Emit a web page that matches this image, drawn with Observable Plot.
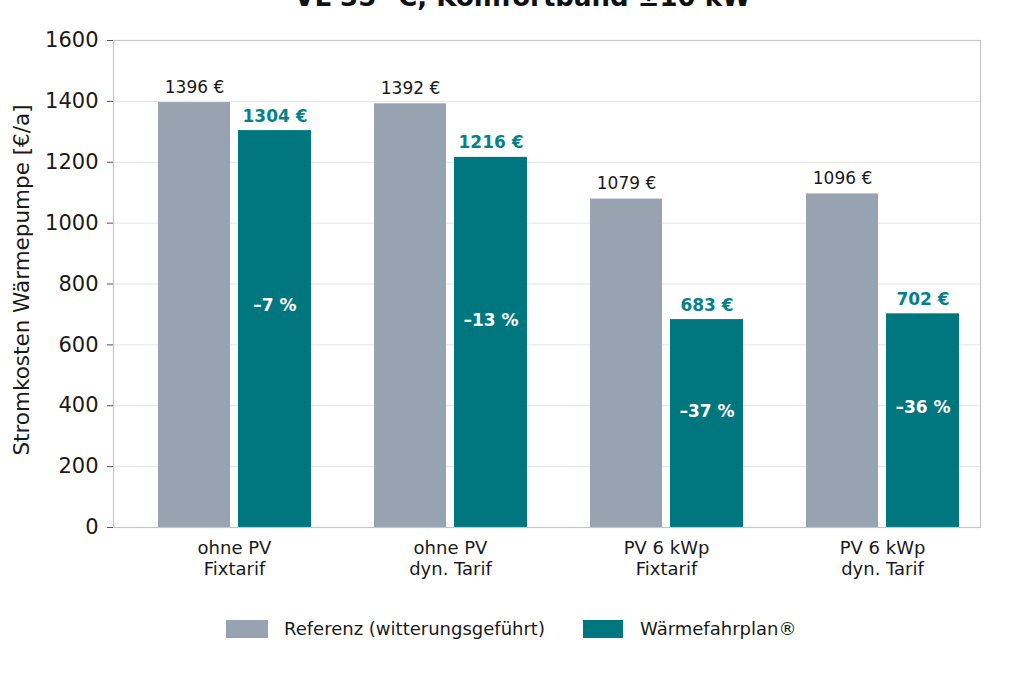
<!DOCTYPE html>
<html>
<head>
<meta charset="utf-8">
<script src="https://cdn.jsdelivr.net/npm/d3@7"></script>
<script src="https://cdn.jsdelivr.net/npm/@observablehq/plot@0.6"></script>
<style>
  html, body { margin: 0; padding: 0; background: #ffffff; }
  body { width: 1010px; height: 673px; position: relative; overflow: hidden; font-family: "DejaVu Sans", sans-serif; color: #1a1a1a; }
  #title { position: absolute; z-index: 5; left: 0; width: 1045px; top: -16px; text-align: center; font-size: 26px; line-height: 26px; font-weight: bold; color: #111; }
  #chart { position: absolute; left: 0; top: 0; z-index: 1; }
  .sw { position: absolute; height: 18px; top: 620px; }
  .lt { position: absolute; top: 617px; font-size: 18px; line-height: 24px; color: #1a1a1a; }
</style>
</head>
<body>
<div id="title">VL 35 °C, Komfortband ±10 kW</div>
<div id="chart"></div>
<div class="sw" style="left:226px;width:42px;background:#98a3b1;"></div>
<div class="lt" style="left:284px;">Referenz (witterungsgeführt)</div>
<div class="sw" style="left:583px;width:40px;background:#00767e;"></div>
<div class="lt" style="left:640px;">Wärmefahrplan®</div>
<script>
const categories = ["ohne PV\nFixtarif", "ohne PV\ndyn. Tarif", "PV 6 kWp\nFixtarif", "PV 6 kWp\ndyn. Tarif"];
const referenz = [1396, 1392, 1079, 1096];
const waermefahrplan = [1304, 1216, 683, 702];
const percentLabels = ["–7 %", "–13 %", "–37 %", "–36 %"];
const yTicks = [0, 200, 400, 600, 800, 1000, 1200, 1400, 1600];
const gridTicks = [200, 400, 600, 800, 1000, 1200, 1400];

const GRAY = "#98a3b1";
const TEAL = "#00767e";
const TEAL_TEXT = "#07808a";

const data = categories.map((c, i) => ({
  cat: c, ref: referenz[i], wfp: waermefahrplan[i], pct: percentLabels[i]
}));

const chart = Plot.plot({
  width: 1010,
  height: 600,
  marginLeft: 113,
  marginRight: 30,
  marginTop: 40,
  marginBottom: 73,
  style: { fontFamily: "DejaVu Sans", background: "transparent", color: "#1a1a1a" },
  x: { type: "band", domain: categories, range: [125.5, 989.5], padding: 0, axis: null },
  y: { domain: [0, 1600], axis: null },
  marks: [
    Plot.ruleY(gridTicks, { stroke: "#e4e4e4", strokeWidth: 1 }),
    Plot.barY(data, { x: "cat", y: "ref", fill: GRAY, insetLeft: 32, insetRight: 112 }),
    Plot.barY(data, { x: "cat", y: "wfp", fill: TEAL, insetLeft: 112, insetRight: 31 }),
    Plot.frame({ stroke: "#c6c6c6", strokeWidth: 1.2 }),
    Plot.text(data, { x: "cat", y: "ref", text: d => `${d.ref} €`, dx: -40, dy: -10, lineAnchor: "bottom", fontSize: 17, fill: "#1a1a1a" }),
    Plot.text(data, { x: "cat", y: "wfp", text: d => `${d.wfp} €`, dx: 40.5, dy: -9, lineAnchor: "bottom", fontSize: 17, fontWeight: "bold", fill: TEAL_TEXT }),
    Plot.text(data, { x: "cat", y: d => d.wfp * 0.56, text: "pct", dx: 40.5, fontSize: 17, fontWeight: "bold", fill: "white" }),
    Plot.axisY({ ticks: yTicks, tickFormat: d => String(d), tickSize: 6, tickPadding: 9, fontSize: 21, stroke: "#555", fill: "#1a1a1a", label: null }),
    Plot.axisX({ tickSize: 0, tickPadding: 11, fontSize: 18, fill: "#1a1a1a", label: null, lineHeight: 1.2 }),
    Plot.text(["Stromkosten Wärmepumpe [€/a]"], { frameAnchor: "left", rotate: -90, dx: -91, dy: -4, fontSize: 21.5, fill: "#1a1a1a", textAnchor: "middle" })
  ]
});
document.getElementById("chart").appendChild(chart);
</script>
</body>
</html>
